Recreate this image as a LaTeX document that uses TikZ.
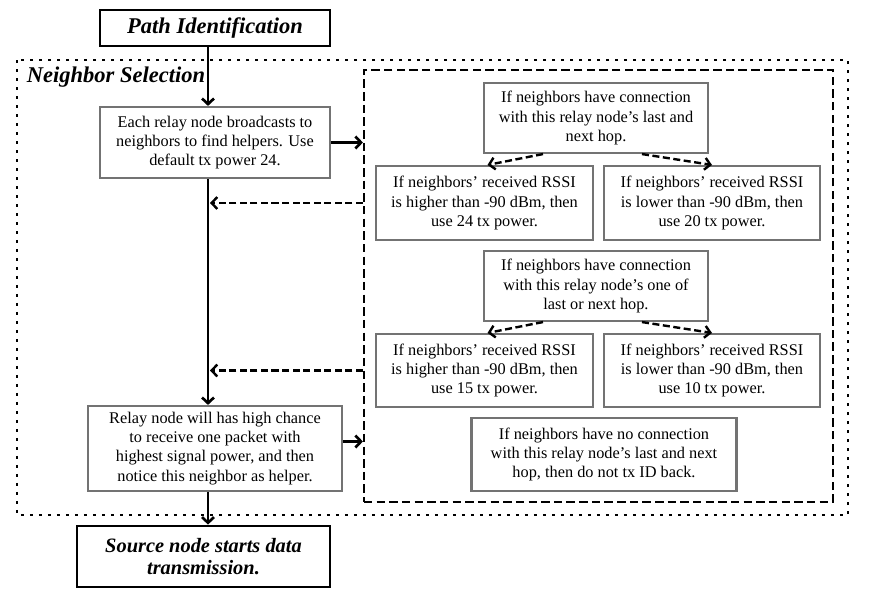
\documentclass[tikz,border=0pt]{standalone}
\usepackage{fontspec}
\setmainfont{Liberation Serif}
\usetikzlibrary{arrows,arrows.meta,positioning}
\newlength\pxu
\setlength\pxu{0.025cm}

\begin{document}
\begin{tikzpicture}[x=0.025cm,y=-0.025cm,>={Straight Barb[length=4pt,width=8.5pt]},
  box/.style={draw=black!55,line width=1.5pt,align=center,inner sep=0pt,
    font=\fontsize{11.6}{13.6}\selectfont},
  stagebox/.style={draw=black,line width=2pt,align=center,inner sep=0pt,
    font=\fontsize{16}{17}\selectfont\bfseries\itshape},
  flow/.style={->,line width=1.9pt},
  hint/.style={->,line width=1.7pt,dash pattern=on 5pt off 2.5pt}]
  \useasboundingbox[fill=white] (0,0) rectangle (869,600);

  % outer and inner frames
  \draw[line width=2pt,dash pattern=on 2pt off 4.4pt] (17,60) rectangle (848,515);
  \node[draw,line width=1.6pt,dash pattern=on 6pt off 3pt,minimum width=469\pxu,minimum height=432\pxu]
    (rules) at (598.5,286) {};
  \node[font=\fontsize{16}{17}\selectfont\bfseries\itshape] (title) at (116,77) {Neighbor Selection};
  \coordinate (spine) at (208,0);

  % main column
  \node[stagebox,minimum width=230\pxu,minimum height=36\pxu] (path) at (215,28) {Path Identification};
  \node[box,minimum width=230\pxu,minimum height=71\pxu] (bcast) at (215,142.5)
    {Each relay node broadcasts to\\neighbors to find helpers. Use\\default tx power 24.};
  \node[box,minimum width=254\pxu,minimum height=85\pxu] (recv) at (215,448.5)
    {Relay node will has high chance\\to receive one packet with\\highest signal power, and then\\notice this neighbor as helper.};
  \node[stagebox,minimum width=253\pxu,minimum height=61\pxu,font=\fontsize{14.5}{15.8}\selectfont\bfseries\itshape]
    (src) at (203.5,556.5) {Source node starts data\\transmission.};

  % rules
  \node[box,minimum width=224\pxu,minimum height=70\pxu] (both) at (596,118)
    {If neighbors have connection\\with this relay node's last and\\next hop.};
  \node[box,minimum width=217\pxu,minimum height=74\pxu] (bothhi) at (484.5,203)
    {If neighbors' received RSSI\\is higher than -90 dBm, then\\use 24 tx power.};
  \node[box,minimum width=216\pxu,minimum height=74\pxu] (bothlo) at (712,203)
    {If neighbors' received RSSI\\is lower than -90 dBm, then\\use 20 tx power.};
  \node[box,minimum width=224\pxu,minimum height=70\pxu] (one) at (596,286)
    {If neighbors have connection\\with this relay node's one of\\last or next hop.};
  \node[box,minimum width=217\pxu,minimum height=73\pxu] (onehi) at (484.5,370.5)
    {If neighbors' received RSSI\\is higher than -90 dBm, then\\use 15 tx power.};
  \node[box,minimum width=216\pxu,minimum height=73\pxu] (onelo) at (712,370.5)
    {If neighbors' received RSSI\\is lower than -90 dBm, then\\use 10 tx power.};
  \node[box,minimum width=265\pxu,minimum height=73\pxu] (none) at (604,454.5)
    {If neighbors have no connection\\with this relay node's last and next\\hop, then do not tx ID back.};

  \draw[flow] (path.south -| spine) -- (bcast.north -| spine);
  \draw[flow] (bcast.south -| spine) -- (recv.north -| spine);
  \draw[flow] (recv.south -| spine) -- (src.north -| spine);
  \draw[flow] (bcast.east) -- (bcast.east -| rules.west);
  \draw[flow] ([yshift=7\pxu]recv.east) -- ([yshift=7\pxu]recv.east -| rules.west);
  \draw[hint] (rules.west |- bothhi) -- ([xshift=2\pxu]spine |- bothhi);
  \draw[hint] (rules.west |- onehi) -- ([xshift=2\pxu]spine |- onehi);

  \path[hint]
    ([xshift=-53\pxu]both.south) edge ([xshift=3\pxu]bothhi.north)
    ([xshift=46\pxu]both.south) edge (bothlo.north)
    ([xshift=-53\pxu]one.south) edge ([xshift=3\pxu]onehi.north)
    ([xshift=46\pxu]one.south) edge (onelo.north);
\end{tikzpicture}
\end{document}
